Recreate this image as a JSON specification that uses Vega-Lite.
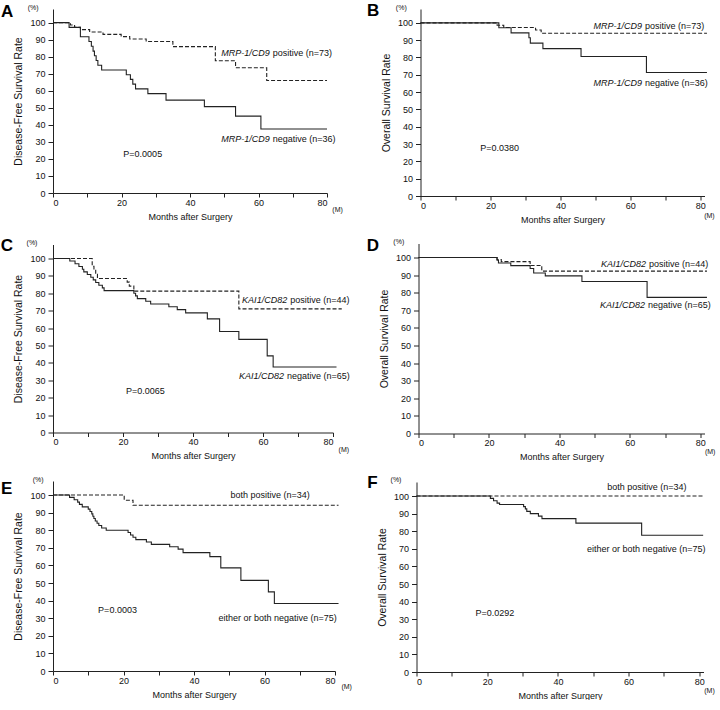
{
  "$schema": "https://vega.github.io/schema/vega-lite/v6.json",
  "background": "white",
  "padding": {"left": 0, "top": 2, "right": 0, "bottom": 0},
  "config": {
    "view": {"stroke": null},
    "font": "Liberation Sans",
    "axis": {"grid": false, "domainColor": "#222", "tickColor": "#222", "labelColor": "#111", "titleColor": "#111", "labelFont": "Liberation Sans", "titleFont": "Liberation Sans", "labelFontSize": 9, "titleFontWeight": "normal"},
    "axisX": {"tickSize": 4, "labelPadding": 1, "titleFontSize": 9, "titlePadding": 5},
    "axisY": {"tickSize": 5, "labelPadding": 3, "titleFontSize": 10.5, "titlePadding": 6},
    "text": {"font": "Liberation Sans", "fontSize": 9, "color": "#111"}
  },
  "datasets": {
    "curves": [
      {"panel":"A","group":"positive","month":0,"rate":100},{"panel":"A","group":"positive","month":5.1,"rate":98.6},{"panel":"A","group":"positive","month":6.3,"rate":97.3},{"panel":"A","group":"positive","month":8,"rate":95.9},{"panel":"A","group":"positive","month":10.7,"rate":94.5},{"panel":"A","group":"positive","month":14.6,"rate":93.1},{"panel":"A","group":"positive","month":19.9,"rate":91.8},{"panel":"A","group":"positive","month":22.4,"rate":90.4},{"panel":"A","group":"positive","month":27.2,"rate":88.9},{"panel":"A","group":"positive","month":35,"rate":85.9},{"panel":"A","group":"positive","month":47.4,"rate":77.6},{"panel":"A","group":"positive","month":53.3,"rate":73.5},{"panel":"A","group":"positive","month":62.4,"rate":66},{"panel":"A","group":"positive","month":80,"rate":66},
      {"panel":"A","group":"negative","month":0,"rate":100},{"panel":"A","group":"negative","month":4.7,"rate":97.2},{"panel":"A","group":"negative","month":8,"rate":91.7},{"panel":"A","group":"negative","month":10.5,"rate":88.9},{"panel":"A","group":"negative","month":11.2,"rate":86.1},{"panel":"A","group":"negative","month":11.7,"rate":83.3},{"panel":"A","group":"negative","month":12.1,"rate":80.6},{"panel":"A","group":"negative","month":12.6,"rate":77.8},{"panel":"A","group":"negative","month":13.1,"rate":75},{"panel":"A","group":"negative","month":14.2,"rate":72.2},{"panel":"A","group":"negative","month":21.4,"rate":69.4},{"panel":"A","group":"negative","month":22.6,"rate":66.7},{"panel":"A","group":"negative","month":23.3,"rate":63.9},{"panel":"A","group":"negative","month":24.1,"rate":61.1},{"panel":"A","group":"negative","month":27.7,"rate":58.3},{"panel":"A","group":"negative","month":33,"rate":54.5},{"panel":"A","group":"negative","month":44.2,"rate":50.7},{"panel":"A","group":"negative","month":53.3,"rate":45.1},{"panel":"A","group":"negative","month":60.7,"rate":37.6},{"panel":"A","group":"negative","month":80,"rate":37.6},
      {"panel":"B","group":"positive","month":0,"rate":100},{"panel":"B","group":"positive","month":21.9,"rate":98.6},{"panel":"B","group":"positive","month":23.8,"rate":97.3},{"panel":"B","group":"positive","month":32.9,"rate":95.9},{"panel":"B","group":"positive","month":34.5,"rate":94},{"panel":"B","group":"positive","month":81.9,"rate":94},
      {"panel":"B","group":"negative","month":0,"rate":100},{"panel":"B","group":"negative","month":22.4,"rate":97.2},{"panel":"B","group":"negative","month":25.9,"rate":94.2},{"panel":"B","group":"negative","month":31,"rate":91.4},{"panel":"B","group":"negative","month":31.4,"rate":88.3},{"panel":"B","group":"negative","month":35,"rate":85.1},{"panel":"B","group":"negative","month":45.9,"rate":80.6},{"panel":"B","group":"negative","month":64.6,"rate":71.3},{"panel":"B","group":"negative","month":81.9,"rate":71.3},
      {"panel":"C","group":"positive","month":0,"rate":100},{"panel":"C","group":"positive","month":11.2,"rate":95.5},{"panel":"C","group":"positive","month":11.7,"rate":93.2},{"panel":"C","group":"positive","month":12.2,"rate":90.9},{"panel":"C","group":"positive","month":12.7,"rate":88.5},{"panel":"C","group":"positive","month":21.2,"rate":86.4},{"panel":"C","group":"positive","month":21.8,"rate":84.1},{"panel":"C","group":"positive","month":23.1,"rate":81.2},{"panel":"C","group":"positive","month":53.1,"rate":71},{"panel":"C","group":"positive","month":82.5,"rate":71},
      {"panel":"C","group":"negative","month":0,"rate":100},{"panel":"C","group":"negative","month":4.8,"rate":98.5},{"panel":"C","group":"negative","month":6.3,"rate":96.9},{"panel":"C","group":"negative","month":7.4,"rate":95.4},{"panel":"C","group":"negative","month":8.4,"rate":93.8},{"panel":"C","group":"negative","month":8.8,"rate":92.3},{"panel":"C","group":"negative","month":9.8,"rate":90.8},{"panel":"C","group":"negative","month":10.8,"rate":89.2},{"panel":"C","group":"negative","month":11.5,"rate":87.7},{"panel":"C","group":"negative","month":12.2,"rate":86.2},{"panel":"C","group":"negative","month":13.1,"rate":84.6},{"panel":"C","group":"negative","month":14.1,"rate":83.1},{"panel":"C","group":"negative","month":14.6,"rate":81.5},{"panel":"C","group":"negative","month":23.1,"rate":80},{"panel":"C","group":"negative","month":23.6,"rate":78.5},{"panel":"C","group":"negative","month":24.1,"rate":76.9},{"panel":"C","group":"negative","month":26.5,"rate":75.4},{"panel":"C","group":"negative","month":27.9,"rate":73.8},{"panel":"C","group":"negative","month":33.1,"rate":72.2},{"panel":"C","group":"negative","month":35.5,"rate":70.6},{"panel":"C","group":"negative","month":37.9,"rate":68.7},{"panel":"C","group":"negative","month":44.1,"rate":65.3},{"panel":"C","group":"negative","month":47.6,"rate":58},{"panel":"C","group":"negative","month":53.1,"rate":53.5},{"panel":"C","group":"negative","month":61.2,"rate":44},{"panel":"C","group":"negative","month":62.9,"rate":37.6},{"panel":"C","group":"negative","month":81,"rate":37.6},
      {"panel":"D","group":"positive","month":0,"rate":100},{"panel":"D","group":"positive","month":22.3,"rate":98.9},{"panel":"D","group":"positive","month":23.5,"rate":97.7},{"panel":"D","group":"positive","month":31.7,"rate":95.5},{"panel":"D","group":"positive","month":35,"rate":92.3},{"panel":"D","group":"positive","month":81.9,"rate":92.3},
      {"panel":"D","group":"negative","month":0,"rate":100},{"panel":"D","group":"negative","month":22.3,"rate":98.5},{"panel":"D","group":"negative","month":22.7,"rate":96.9},{"panel":"D","group":"negative","month":26.2,"rate":95.4},{"panel":"D","group":"negative","month":31.7,"rate":93.8},{"panel":"D","group":"negative","month":32.7,"rate":91.2},{"panel":"D","group":"negative","month":36,"rate":89.6},{"panel":"D","group":"negative","month":46.4,"rate":86.4},{"panel":"D","group":"negative","month":64.9,"rate":77.4},{"panel":"D","group":"negative","month":81.9,"rate":77.4},
      {"panel":"E","group":"positive","month":0,"rate":100},{"panel":"E","group":"positive","month":20.2,"rate":97.1},{"panel":"E","group":"positive","month":22.7,"rate":94.2},{"panel":"E","group":"positive","month":81,"rate":94.2},
      {"panel":"E","group":"negative","month":0,"rate":100},{"panel":"E","group":"negative","month":4.7,"rate":98.7},{"panel":"E","group":"negative","month":6,"rate":97.3},{"panel":"E","group":"negative","month":7,"rate":96},{"panel":"E","group":"negative","month":7.5,"rate":94.7},{"panel":"E","group":"negative","month":8.3,"rate":93.3},{"panel":"E","group":"negative","month":10,"rate":92},{"panel":"E","group":"negative","month":10.5,"rate":90.7},{"panel":"E","group":"negative","month":11,"rate":89.3},{"panel":"E","group":"negative","month":11.3,"rate":88},{"panel":"E","group":"negative","month":11.6,"rate":86.7},{"panel":"E","group":"negative","month":12,"rate":85.3},{"panel":"E","group":"negative","month":12.5,"rate":84},{"panel":"E","group":"negative","month":13,"rate":82.7},{"panel":"E","group":"negative","month":13.8,"rate":81.3},{"panel":"E","group":"negative","month":15.1,"rate":80},{"panel":"E","group":"negative","month":21.3,"rate":78.7},{"panel":"E","group":"negative","month":22,"rate":77.3},{"panel":"E","group":"negative","month":22.7,"rate":76},{"panel":"E","group":"negative","month":23.5,"rate":74.7},{"panel":"E","group":"negative","month":26.5,"rate":73.3},{"panel":"E","group":"negative","month":27.9,"rate":72},{"panel":"E","group":"negative","month":33.1,"rate":70.6},{"panel":"E","group":"negative","month":35.5,"rate":69.3},{"panel":"E","group":"negative","month":36.9,"rate":67.3},{"panel":"E","group":"negative","month":44.5,"rate":65},{"panel":"E","group":"negative","month":47.6,"rate":58.6},{"panel":"E","group":"negative","month":53.3,"rate":51.5},{"panel":"E","group":"negative","month":61.1,"rate":45},{"panel":"E","group":"negative","month":62.8,"rate":38.4},{"panel":"E","group":"negative","month":81,"rate":38.4},
      {"panel":"F","group":"positive","month":0,"rate":100},{"panel":"F","group":"positive","month":81.1,"rate":100},
      {"panel":"F","group":"negative","month":0,"rate":100},{"panel":"F","group":"negative","month":20.9,"rate":98.7},{"panel":"F","group":"negative","month":21.8,"rate":97.3},{"panel":"F","group":"negative","month":22.8,"rate":96},{"panel":"F","group":"negative","month":23.5,"rate":95.2},{"panel":"F","group":"negative","month":30.3,"rate":94},{"panel":"F","group":"negative","month":30.8,"rate":92.7},{"panel":"F","group":"negative","month":31.2,"rate":91.3},{"panel":"F","group":"negative","month":32.2,"rate":90},{"panel":"F","group":"negative","month":34.5,"rate":88.6},{"panel":"F","group":"negative","month":35.5,"rate":87.2},{"panel":"F","group":"negative","month":45.1,"rate":84.6},{"panel":"F","group":"negative","month":63.7,"rate":77.7},{"panel":"F","group":"negative","month":81.1,"rate":77.7}
    ],
    "geneLabels": [
      {"panel":"A","month":63.3,"rate":82.2,"text":"MRP-1/CD9"},{"panel":"A","month":63.3,"rate":31.6,"text":"MRP-1/CD9"},
      {"panel":"B","month":63.3,"rate":98.3,"text":"MRP-1/CD9"},{"panel":"B","month":63.3,"rate":65.4,"text":"MRP-1/CD9"},
      {"panel":"C","month":66.9,"rate":75.9,"text":"KAI1/CD82"},{"panel":"C","month":66,"rate":32.2,"text":"KAI1/CD82"},
      {"panel":"D","month":64.6,"rate":96.2,"text":"KAI1/CD82"},{"panel":"D","month":64.3,"rate":73,"text":"KAI1/CD82"}
    ],
    "groupLabels": [
      {"panel":"A","month":63.3,"rate":82.2,"text":"positive (n=73)"},{"panel":"A","month":63.3,"rate":31.6,"text":"negative (n=36)"},
      {"panel":"B","month":63.3,"rate":98.3,"text":"positive (n=73)"},{"panel":"B","month":63.3,"rate":65.4,"text":"negative (n=36)"},
      {"panel":"C","month":66.9,"rate":75.9,"text":"positive (n=44)"},{"panel":"C","month":66,"rate":32.2,"text":"negative (n=65)"},
      {"panel":"D","month":64.6,"rate":96.2,"text":"positive (n=44)"},{"panel":"D","month":64.3,"rate":73,"text":"negative (n=65)"}
    ],
    "notes": [
      {"panel":"A","month":26.2,"rate":22.8,"text":"P=0.0005"},
      {"panel":"B","month":22.6,"rate":27.7,"text":"P=0.0380"},
      {"panel":"C","month":26.4,"rate":24.1,"text":"P=0.0065"},
      {"panel":"E","month":18.3,"rate":34.4,"text":"P=0.0003"},{"panel":"E","month":61.6,"rate":100.2,"text":"both positive (n=34)"},{"panel":"E","month":63.7,"rate":30.4,"text":"either or both negative (n=75)"},
      {"panel":"F","month":22.2,"rate":33.8,"text":"P=0.0292"},{"panel":"F","month":65.2,"rate":105,"text":"both positive (n=34)"},{"panel":"F","month":65,"rate":70.2,"text":"either or both negative (n=75)"}
    ],
    "units": [
      {"panel":"A","month":-5.8,"rate":108.6,"text":"(%)"},{"panel":"A","month":83.1,"rate":-10.2,"text":"(M)"},
      {"panel":"B","month":-5.5,"rate":108.6,"text":"(%)"},{"panel":"B","month":82.6,"rate":-11.4,"text":"(M)"},
      {"panel":"C","month":-6,"rate":108.6,"text":"(%)"},{"panel":"C","month":83.1,"rate":-10.3,"text":"(M)"},
      {"panel":"D","month":-5.6,"rate":108.7,"text":"(%)"},{"panel":"D","month":82.8,"rate":-10.4,"text":"(M)"},
      {"panel":"E","month":-4.2,"rate":108.7,"text":"(%)"},{"panel":"E","month":83.3,"rate":-9.2,"text":"(M)"},
      {"panel":"F","month":-5.8,"rate":108.9,"text":"(%)"},{"panel":"F","month":82.9,"rate":-11,"text":"(M)"}
    ],
    "letters": [
      {"panel":"A","month":-15.2,"rate":106.5,"text":"A"},
      {"panel":"B","month":-15.3,"rate":106.6,"text":"B"},
      {"panel":"C","month":-14.9,"rate":106.9,"text":"C"},
      {"panel":"D","month":-14.7,"rate":106.8,"text":"D"},
      {"panel":"E","month":-14.75,"rate":103.6,"text":"E"},
      {"panel":"F","month":-13.9,"rate":107.2,"text":"F"}
    ]
  },
  "columns": 2,
  "align": "none",
  "spacing": {"row": 12.5, "column": 14.5},
  "concat": [
    {
      "width": 274, "height": 184,
      "layer": [
        {"data": {"name": "curves"}, "transform": [{"filter": "datum.panel === 'A'"}],
         "mark": {"type": "line", "interpolate": "step-after", "clip": false, "strokeWidth": 1.1, "color": "#222"},
         "encoding": {
           "x": {"field": "month", "type": "quantitative", "scale": {"domain": [0, 80], "nice": false}, "axis": {"title": "Months after Surgery", "tickCount": 9, "values": [0,10,20,30,40,50,60,70,80], "labelOverlap": false, "labelExpr": "datum.value % 20 === 0 ? datum.label : ''"}},
           "y": {"field": "rate", "type": "quantitative", "scale": {"domain": [0, 108], "nice": false}, "axis": {"title": "Disease-Free Survival Rate", "labelOverlap": false, "tickCount": 11, "values": [0,10,20,30,40,50,60,70,80,90,100]}},
           "strokeDash": {"field": "group", "type": "nominal", "scale": {"domain": ["positive", "negative"], "range": [[4, 2], [1, 0]]}, "legend": null}
         }},
        {"data": {"name": "geneLabels"}, "transform": [{"filter": "datum.panel === 'A'"}], "mark": {"type": "text", "align": "right", "baseline": "middle", "fontStyle": "italic"}, "encoding": {"x": {"field": "month", "type": "quantitative"}, "y": {"field": "rate", "type": "quantitative"}, "text": {"field": "text"}}},
        {"data": {"name": "groupLabels"}, "transform": [{"filter": "datum.panel === 'A'"}], "mark": {"type": "text", "align": "left", "baseline": "middle", "dx": 3}, "encoding": {"x": {"field": "month", "type": "quantitative"}, "y": {"field": "rate", "type": "quantitative"}, "text": {"field": "text"}}},
        {"data": {"name": "notes"}, "transform": [{"filter": "datum.panel === 'A'"}], "mark": {"type": "text", "align": "center", "baseline": "middle"}, "encoding": {"x": {"field": "month", "type": "quantitative"}, "y": {"field": "rate", "type": "quantitative"}, "text": {"field": "text"}}},
        {"data": {"name": "units"}, "transform": [{"filter": "datum.panel === 'A'"}], "mark": {"type": "text", "align": "center", "baseline": "middle", "fontSize": 7}, "encoding": {"x": {"field": "month", "type": "quantitative"}, "y": {"field": "rate", "type": "quantitative"}, "text": {"field": "text"}}},
        {"data": {"name": "letters"}, "transform": [{"filter": "datum.panel === 'A'"}], "mark": {"type": "text", "align": "left", "baseline": "middle", "fontSize": 17, "fontWeight": "bold", "color": "#000"}, "encoding": {"x": {"field": "month", "type": "quantitative"}, "y": {"field": "rate", "type": "quantitative"}, "text": {"field": "text"}}}
      ]
    },
    {
      "width": 284, "height": 187,
      "layer": [
        {"data": {"name": "curves"}, "transform": [{"filter": "datum.panel === 'B'"}],
         "mark": {"type": "line", "interpolate": "step-after", "clip": false, "strokeWidth": 1.1, "color": "#222"},
         "encoding": {
           "x": {"field": "month", "type": "quantitative", "scale": {"domain": [0, 81.2], "nice": false}, "axis": {"title": "Months after Surgery", "tickCount": 9, "values": [0,10,20,30,40,50,60,70,80], "labelOverlap": false, "labelExpr": "datum.value % 20 === 0 ? datum.label : ''"}},
           "y": {"field": "rate", "type": "quantitative", "scale": {"domain": [0, 108], "nice": false}, "axis": {"title": "Overall Survival Rate", "labelOverlap": false, "tickCount": 11, "values": [0,10,20,30,40,50,60,70,80,90,100]}},
           "strokeDash": {"field": "group", "type": "nominal", "scale": {"domain": ["positive", "negative"], "range": [[4, 2], [1, 0]]}, "legend": null}
         }},
        {"data": {"name": "geneLabels"}, "transform": [{"filter": "datum.panel === 'B'"}], "mark": {"type": "text", "align": "right", "baseline": "middle", "fontStyle": "italic"}, "encoding": {"x": {"field": "month", "type": "quantitative"}, "y": {"field": "rate", "type": "quantitative"}, "text": {"field": "text"}}},
        {"data": {"name": "groupLabels"}, "transform": [{"filter": "datum.panel === 'B'"}], "mark": {"type": "text", "align": "left", "baseline": "middle", "dx": 3}, "encoding": {"x": {"field": "month", "type": "quantitative"}, "y": {"field": "rate", "type": "quantitative"}, "text": {"field": "text"}}},
        {"data": {"name": "notes"}, "transform": [{"filter": "datum.panel === 'B'"}], "mark": {"type": "text", "align": "center", "baseline": "middle"}, "encoding": {"x": {"field": "month", "type": "quantitative"}, "y": {"field": "rate", "type": "quantitative"}, "text": {"field": "text"}}},
        {"data": {"name": "units"}, "transform": [{"filter": "datum.panel === 'B'"}], "mark": {"type": "text", "align": "center", "baseline": "middle", "fontSize": 7}, "encoding": {"x": {"field": "month", "type": "quantitative"}, "y": {"field": "rate", "type": "quantitative"}, "text": {"field": "text"}}},
        {"data": {"name": "letters"}, "transform": [{"filter": "datum.panel === 'B'"}], "mark": {"type": "text", "align": "left", "baseline": "middle", "fontSize": 17, "fontWeight": "bold", "color": "#000"}, "encoding": {"x": {"field": "month", "type": "quantitative"}, "y": {"field": "rate", "type": "quantitative"}, "text": {"field": "text"}}}
      ]
    },
    {
      "width": 280, "height": 188,
      "layer": [
        {"data": {"name": "curves"}, "transform": [{"filter": "datum.panel === 'C'"}],
         "mark": {"type": "line", "interpolate": "step-after", "clip": false, "strokeWidth": 1.1, "color": "#222"},
         "encoding": {
           "x": {"field": "month", "type": "quantitative", "scale": {"domain": [0, 80], "nice": false}, "axis": {"title": "Months after Surgery", "tickCount": 9, "values": [0,10,20,30,40,50,60,70,80], "labelOverlap": false, "labelExpr": "datum.value % 20 === 0 ? datum.label : ''"}},
           "y": {"field": "rate", "type": "quantitative", "scale": {"domain": [0, 108], "nice": false}, "axis": {"title": "Disease-Free Survival Rate", "labelOverlap": false, "tickCount": 11, "values": [0,10,20,30,40,50,60,70,80,90,100]}},
           "strokeDash": {"field": "group", "type": "nominal", "scale": {"domain": ["positive", "negative"], "range": [[4, 2], [1, 0]]}, "legend": null}
         }},
        {"data": {"name": "geneLabels"}, "transform": [{"filter": "datum.panel === 'C'"}], "mark": {"type": "text", "align": "right", "baseline": "middle", "fontStyle": "italic"}, "encoding": {"x": {"field": "month", "type": "quantitative"}, "y": {"field": "rate", "type": "quantitative"}, "text": {"field": "text"}}},
        {"data": {"name": "groupLabels"}, "transform": [{"filter": "datum.panel === 'C'"}], "mark": {"type": "text", "align": "left", "baseline": "middle", "dx": 3}, "encoding": {"x": {"field": "month", "type": "quantitative"}, "y": {"field": "rate", "type": "quantitative"}, "text": {"field": "text"}}},
        {"data": {"name": "notes"}, "transform": [{"filter": "datum.panel === 'C'"}], "mark": {"type": "text", "align": "center", "baseline": "middle"}, "encoding": {"x": {"field": "month", "type": "quantitative"}, "y": {"field": "rate", "type": "quantitative"}, "text": {"field": "text"}}},
        {"data": {"name": "units"}, "transform": [{"filter": "datum.panel === 'C'"}], "mark": {"type": "text", "align": "center", "baseline": "middle", "fontSize": 7}, "encoding": {"x": {"field": "month", "type": "quantitative"}, "y": {"field": "rate", "type": "quantitative"}, "text": {"field": "text"}}},
        {"data": {"name": "letters"}, "transform": [{"filter": "datum.panel === 'C'"}], "mark": {"type": "text", "align": "left", "baseline": "middle", "fontSize": 17, "fontWeight": "bold", "color": "#000"}, "encoding": {"x": {"field": "month", "type": "quantitative"}, "y": {"field": "rate", "type": "quantitative"}, "text": {"field": "text"}}}
      ]
    },
    {
      "width": 286, "height": 190,
      "layer": [
        {"data": {"name": "curves"}, "transform": [{"filter": "datum.panel === 'D'"}],
         "mark": {"type": "line", "interpolate": "step-after", "clip": false, "strokeWidth": 1.1, "color": "#222"},
         "encoding": {
           "x": {"field": "month", "type": "quantitative", "scale": {"domain": [0, 81.2], "nice": false}, "axis": {"title": "Months after Surgery", "tickCount": 9, "values": [0,10,20,30,40,50,60,70,80], "labelOverlap": false, "labelExpr": "datum.value % 20 === 0 ? datum.label : ''"}},
           "y": {"field": "rate", "type": "quantitative", "scale": {"domain": [0, 108], "nice": false}, "axis": {"title": "Overall Survival Rate", "labelOverlap": false, "tickCount": 11, "values": [0,10,20,30,40,50,60,70,80,90,100]}},
           "strokeDash": {"field": "group", "type": "nominal", "scale": {"domain": ["positive", "negative"], "range": [[4, 2], [1, 0]]}, "legend": null}
         }},
        {"data": {"name": "geneLabels"}, "transform": [{"filter": "datum.panel === 'D'"}], "mark": {"type": "text", "align": "right", "baseline": "middle", "fontStyle": "italic"}, "encoding": {"x": {"field": "month", "type": "quantitative"}, "y": {"field": "rate", "type": "quantitative"}, "text": {"field": "text"}}},
        {"data": {"name": "groupLabels"}, "transform": [{"filter": "datum.panel === 'D'"}], "mark": {"type": "text", "align": "left", "baseline": "middle", "dx": 3}, "encoding": {"x": {"field": "month", "type": "quantitative"}, "y": {"field": "rate", "type": "quantitative"}, "text": {"field": "text"}}},
        {"data": {"name": "units"}, "transform": [{"filter": "datum.panel === 'D'"}], "mark": {"type": "text", "align": "center", "baseline": "middle", "fontSize": 7}, "encoding": {"x": {"field": "month", "type": "quantitative"}, "y": {"field": "rate", "type": "quantitative"}, "text": {"field": "text"}}},
        {"data": {"name": "letters"}, "transform": [{"filter": "datum.panel === 'D'"}], "mark": {"type": "text", "align": "left", "baseline": "middle", "fontSize": 17, "fontWeight": "bold", "color": "#000"}, "encoding": {"x": {"field": "month", "type": "quantitative"}, "y": {"field": "rate", "type": "quantitative"}, "text": {"field": "text"}}}
      ]
    },
    {
      "width": 282, "height": 190,
      "layer": [
        {"data": {"name": "curves"}, "transform": [{"filter": "datum.panel === 'E'"}],
         "mark": {"type": "line", "interpolate": "step-after", "clip": false, "strokeWidth": 1.1, "color": "#222"},
         "encoding": {
           "x": {"field": "month", "type": "quantitative", "scale": {"domain": [0, 80], "nice": false}, "axis": {"title": "Months after Surgery", "tickCount": 9, "values": [0,10,20,30,40,50,60,70,80], "labelOverlap": false, "labelExpr": "datum.value % 20 === 0 ? datum.label : ''"}},
           "y": {"field": "rate", "type": "quantitative", "scale": {"domain": [0, 108], "nice": false}, "axis": {"title": "Disease-Free Survival Rate", "labelOverlap": false, "tickCount": 11, "values": [0,10,20,30,40,50,60,70,80,90,100]}},
           "strokeDash": {"field": "group", "type": "nominal", "scale": {"domain": ["positive", "negative"], "range": [[4, 2], [1, 0]]}, "legend": null}
         }},
        {"data": {"name": "notes"}, "transform": [{"filter": "datum.panel === 'E'"}], "mark": {"type": "text", "align": "center", "baseline": "middle"}, "encoding": {"x": {"field": "month", "type": "quantitative"}, "y": {"field": "rate", "type": "quantitative"}, "text": {"field": "text"}}},
        {"data": {"name": "units"}, "transform": [{"filter": "datum.panel === 'E'"}], "mark": {"type": "text", "align": "center", "baseline": "middle", "fontSize": 7}, "encoding": {"x": {"field": "month", "type": "quantitative"}, "y": {"field": "rate", "type": "quantitative"}, "text": {"field": "text"}}},
        {"data": {"name": "letters"}, "transform": [{"filter": "datum.panel === 'E'"}], "mark": {"type": "text", "align": "left", "baseline": "middle", "fontSize": 17, "fontWeight": "bold", "color": "#000"}, "encoding": {"x": {"field": "month", "type": "quantitative"}, "y": {"field": "rate", "type": "quantitative"}, "text": {"field": "text"}}}
      ]
    },
    {
      "width": 287, "height": 190,
      "layer": [
        {"data": {"name": "curves"}, "transform": [{"filter": "datum.panel === 'F'"}],
         "mark": {"type": "line", "interpolate": "step-after", "clip": false, "strokeWidth": 1.1, "color": "#222"},
         "encoding": {
           "x": {"field": "month", "type": "quantitative", "scale": {"domain": [0, 81.2], "nice": false}, "axis": {"title": "Months after Surgery", "tickCount": 9, "values": [0,10,20,30,40,50,60,70,80], "labelOverlap": false, "labelExpr": "datum.value % 20 === 0 ? datum.label : ''"}},
           "y": {"field": "rate", "type": "quantitative", "scale": {"domain": [0, 108], "nice": false}, "axis": {"title": "Overall Survival Rate", "labelOverlap": false, "tickCount": 11, "values": [0,10,20,30,40,50,60,70,80,90,100]}},
           "strokeDash": {"field": "group", "type": "nominal", "scale": {"domain": ["positive", "negative"], "range": [[4, 2], [1, 0]]}, "legend": null}
         }},
        {"data": {"name": "notes"}, "transform": [{"filter": "datum.panel === 'F'"}], "mark": {"type": "text", "align": "center", "baseline": "middle"}, "encoding": {"x": {"field": "month", "type": "quantitative"}, "y": {"field": "rate", "type": "quantitative"}, "text": {"field": "text"}}},
        {"data": {"name": "units"}, "transform": [{"filter": "datum.panel === 'F'"}], "mark": {"type": "text", "align": "center", "baseline": "middle", "fontSize": 7}, "encoding": {"x": {"field": "month", "type": "quantitative"}, "y": {"field": "rate", "type": "quantitative"}, "text": {"field": "text"}}},
        {"data": {"name": "letters"}, "transform": [{"filter": "datum.panel === 'F'"}], "mark": {"type": "text", "align": "left", "baseline": "middle", "fontSize": 17, "fontWeight": "bold", "color": "#000"}, "encoding": {"x": {"field": "month", "type": "quantitative"}, "y": {"field": "rate", "type": "quantitative"}, "text": {"field": "text"}}}
      ]
    }
  ]
}
